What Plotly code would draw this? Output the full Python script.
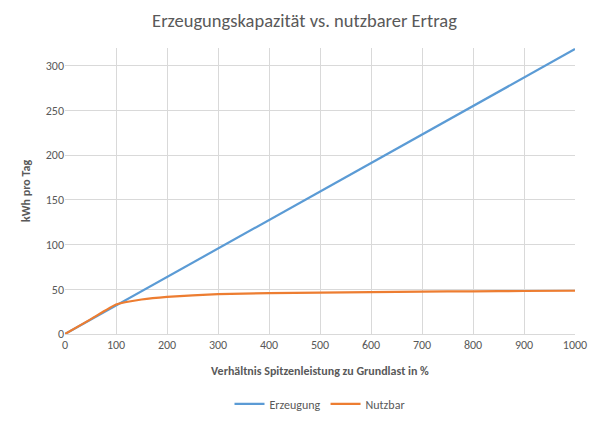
import plotly.graph_objects as go

ratio = [0, 50, 100, 150, 200, 300, 400, 500, 600, 700, 800, 900, 1000]
erzeugung = [0, 15.9, 31.9, 47.8, 63.8, 95.6, 127.5, 159.4, 191.3, 223.1, 255.0, 286.9, 318.8]
nutzbar = [0, 16.4, 33.0, 38.6, 41.6, 44.6, 45.8, 46.4, 46.9, 47.4, 47.8, 48.1, 48.4]

font = "Carlito, Calibri, Liberation Sans, sans-serif"
grey = "#595959"

fig = go.Figure()
fig.add_trace(go.Scatter(x=ratio, y=erzeugung, name="Erzeugung", mode="lines",
                         line=dict(color="#5B9BD5", width=2.2)))
fig.add_trace(go.Scatter(x=ratio, y=nutzbar, name="Nutzbar", mode="lines",
                         line=dict(color="#ED7D31", width=2.2, shape="spline", smoothing=0.4)))

# page body adds an 8px offset, so the figure is slightly smaller than the window
fig.update_layout(
    width=593, height=415,
    margin=dict(l=57, r=26, t=40, b=89),
    paper_bgcolor="white", plot_bgcolor="white",
    font=dict(family=font, color=grey, size=12),
    title=dict(text="Erzeugungskapazität vs. nutzbarer Ertrag", x=0.5, xanchor="center",
               y=0.971, yanchor="middle", font=dict(size=18.5, color=grey)),
    showlegend=True,
    legend=dict(orientation="h", x=0.5, xanchor="center", yref="container",
                y=0.046, yanchor="middle", font=dict(size=12, color=grey)),
)
fig.update_xaxes(range=[0, 1000], dtick=100, showgrid=True, gridcolor="#D9D9D9",
                 showline=True, linecolor="#D9D9D9", zeroline=False, ticks="",
                 automargin=False, tickfont=dict(size=12, color=grey),
                 title=dict(text="<b>Verhältnis Spitzenleistung zu Grundlast in %</b>",
                            font=dict(size=12, color=grey), standoff=15))
fig.update_yaxes(range=[0, 320], tickvals=[0, 50, 100, 150, 200, 250, 300], showgrid=True,
                 gridcolor="#D9D9D9", zeroline=False, showline=False, ticks="",
                 automargin=False, tickfont=dict(size=12, color=grey),
                 title=dict(text="<b>kWh pro Tag</b>", font=dict(size=12, color=grey), standoff=12))

fig.write_html("out.html")
